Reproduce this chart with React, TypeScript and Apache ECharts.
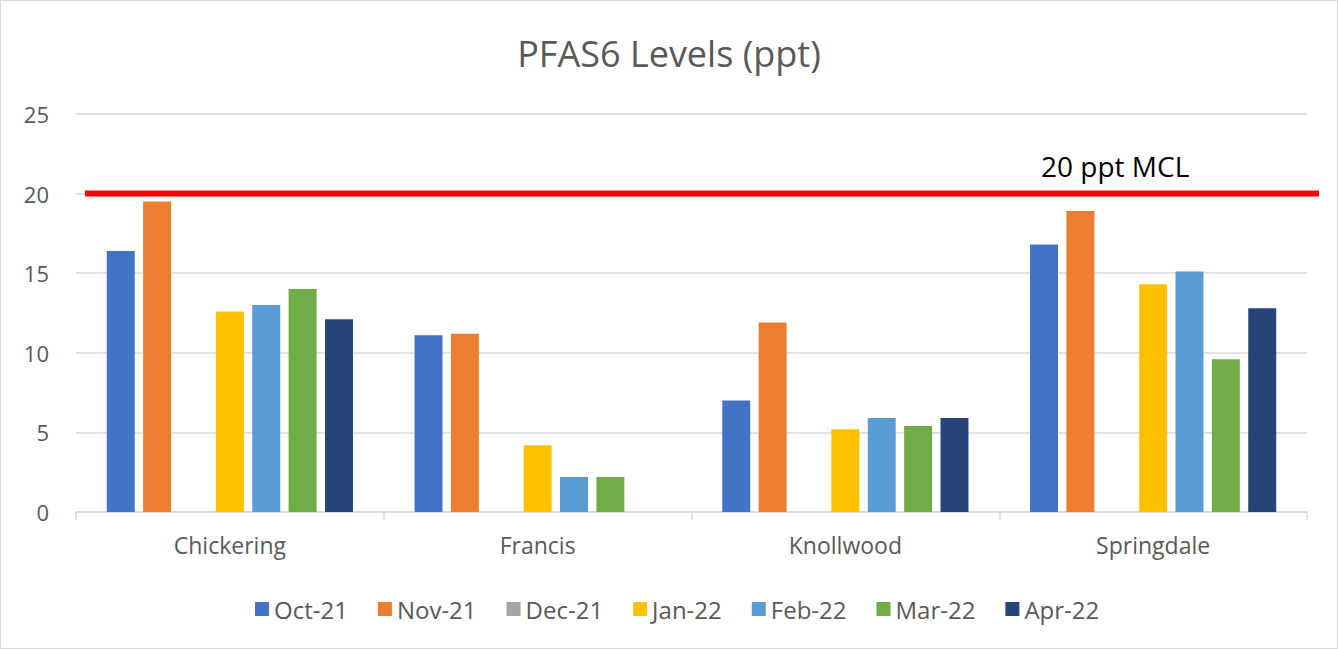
import React, { useEffect, useRef } from "react";
import * as echarts from "echarts";

const categories = ["Chickering", "Francis", "Knollwood", "Springdale"];
const seriesNames = ["Oct-21", "Nov-21", "Dec-21", "Jan-22", "Feb-22", "Mar-22", "Apr-22"];
const seriesColors = ["#4472C4", "#ED7D31", "#A5A5A5", "#FFC000", "#5B9BD5", "#70AD47", "#264478"];
const oct21 = [16.4, 11.1, 7.0, 16.8];
const nov21 = [19.5, 11.2, 11.9, 18.9];
const dec21 = [null, null, null, null];
const jan22 = [12.6, 4.2, 5.2, 14.3];
const feb22 = [13.0, 2.2, 5.9, 15.1];
const mar22 = [14.0, 2.2, 5.4, 9.6];
const apr22 = [12.1, null, 5.9, 12.8];
const seriesValues = [oct21, nov21, dec21, jan22, feb22, mar22, apr22];
const yMin = 0;
const yMax = 25;
const yInterval = 5;
const mclValue = 20;
const mclLabel = "20 ppt MCL";
const titleText = "PFAS6 Levels (ppt)";

const FONT = "'Open Sans', sans-serif";

export default function App() {
  const ref = useRef<HTMLDivElement>(null);
  useEffect(() => {
    document.body.style.margin = "0";
    if (!ref.current) return;
    const chart = echarts.init(ref.current, null, { renderer: "svg" });
    const bars = seriesNames.map((name, i) => ({
      name,
      type: "bar",
      xAxisIndex: 0,
      yAxisIndex: 0,
      data: seriesValues[i],
      itemStyle: { color: seriesColors[i] },
      barGap: "30%",
      barCategoryGap: "20%",
    }));
    chart.setOption({
      animation: false,
      textStyle: { fontFamily: FONT },
      title: {
        text: titleText,
        left: "center",
        top: 29,
        textStyle: { fontSize: 36, fontWeight: "normal", color: "#595959", fontFamily: FONT },
      },
      legend: {
        data: seriesNames,
        left: 249,
        top: 591,
        itemWidth: 14,
        itemHeight: 14,
        itemGap: 30,
        icon: "rect",
        textStyle: { fontSize: 24, color: "#595959", fontFamily: FONT },
      },
      grid: [
        { left: 75, right: 30, top: 113, bottom: 136, containLabel: false },
        { left: 84, right: 18, top: 113, bottom: 136, containLabel: false },
      ],
      xAxis: [
        {
          type: "category",
          gridIndex: 0,
          data: categories,
          axisLine: { lineStyle: { color: "#d9d9d9", width: 1.5 } },
          axisTick: { show: true, length: 8, lineStyle: { color: "#d9d9d9", width: 1.5 } },
          axisLabel: { fontSize: 23, color: "#595959", margin: 21, fontFamily: FONT },
        },
        { type: "value", gridIndex: 1, min: 0, max: 1, show: false },
      ],
      yAxis: [
        {
          type: "value",
          gridIndex: 0,
          min: yMin,
          max: yMax,
          interval: yInterval,
          axisLine: { show: false },
          axisTick: { show: false },
          axisLabel: { fontSize: 22, color: "#595959", margin: 27, fontFamily: FONT },
          splitLine: { lineStyle: { color: "#d9d9d9", width: 1.5 } },
        },
        { type: "value", gridIndex: 1, min: yMin, max: yMax, show: false },
      ],
      graphic: [
        {
          type: "text",
          left: 1040,
          top: 151,
          style: { text: mclLabel, fontSize: 28, fill: "#000000", fontFamily: FONT },
        },
      ],
      series: [
        ...bars,
        {
          name: "MCL",
          type: "line",
          xAxisIndex: 1,
          yAxisIndex: 1,
          data: [
            [0, mclValue],
            [1, mclValue],
          ],
          symbol: "none",
          silent: true,
          lineStyle: { color: "#FF0000", width: 6 },
          z: 5,
        },
      ],
    });
    return () => chart.dispose();
  }, []);
  return (
    <div
      style={{
        width: 1338,
        height: 649,
        boxSizing: "border-box",
        border: "1.5px solid #d9d9d9",
        background: "#ffffff",
      }}
    >
      <div ref={ref} style={{ width: "100%", height: "100%" }} />
    </div>
  );
}
